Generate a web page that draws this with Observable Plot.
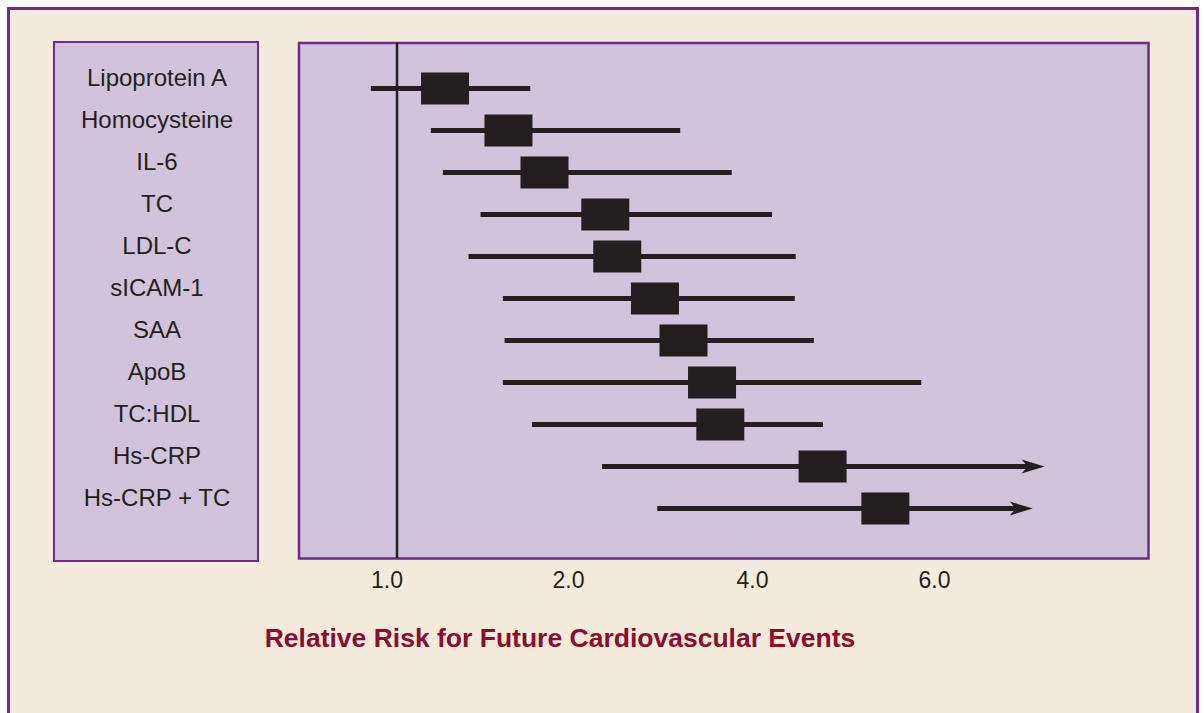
<!DOCTYPE html>
<html>
<head>
<meta charset="utf-8">
<script src="https://cdn.jsdelivr.net/npm/d3@7"></script>
<script src="https://cdn.jsdelivr.net/npm/@observablehq/plot@0.6"></script>
<style>
html, body { margin: 0; padding: 0; background: #ffffff; overflow: hidden; width: 1204px; height: 713px; }
#outer { position: absolute; left: 7px; top: 7px; width: 1192px; height: 800px; box-sizing: border-box; border: 3px solid #6b2c8c; background: #f5ebdc; }
#labelbox { position: absolute; left: 53px; top: 41px; width: 206px; height: 521px; box-sizing: border-box; border: 2.5px solid #6b2c8c; background: #d1c3dc; }
#chart { position: absolute; left: 0; top: 0; }
#title { position: absolute; left: 160px; width: 800px; top: 623px; line-height: 30px; text-align: center;
  font-family: "Liberation Sans", Arial, sans-serif; font-weight: bold; font-size: 26.5px; color: #8c0b2e; white-space: nowrap; }
</style>
</head>
<body>
<div id="outer"></div>
<div id="labelbox"></div>
<div id="chart"></div>
<div id="title">Relative Risk for Future Cardiovascular Events</div>
<script>
const markers = ["Lipoprotein A", "Homocysteine", "IL-6", "TC", "LDL-C", "sICAM-1", "SAA", "ApoB", "TC:HDL", "Hs-CRP", "Hs-CRP + TC"];
const risk  = [1.28, 1.65, 1.86, 2.40, 2.53, 2.94, 3.25, 3.56, 3.65, 4.77, 5.46];
const lower = [0.85, 1.20, 1.27, 1.49, 1.42, 1.62, 1.63, 1.62, 1.79, 2.37, 2.97];
const upper = [1.78, 3.22, 3.78, 4.22, 4.48, 4.47, 4.68, 5.86, 4.78, 7.21, 7.08];
const openEnded = [false, false, false, false, false, false, false, false, false, true, true];
const tickValues = [1, 2, 4, 6];
const tickLabels = ["1.0", "2.0", "4.0", "6.0"];

const rows = markers.map((name, i) => ({name, risk: risk[i], lo: lower[i], hi: upper[i], open: openEnded[i]}));
const ticks = tickValues.map((v, i) => ({v, label: tickLabels[i]}));

const ink = "#231f20";
const boxSymbol = {draw(ctx) { ctx.rect(-24, -16, 48, 32); }};
const arrowSymbol = {draw(ctx) {
  ctx.moveTo(0, 0); ctx.lineTo(-23, -7); ctx.lineTo(-17, 0); ctx.lineTo(-23, 7); ctx.closePath();
}};

const chart = Plot.plot({
  width: 1204,
  height: 600,
  marginLeft: 298.5,
  marginTop: 42.5,
  marginRight: 56,
  marginBottom: 42,
  style: {fontFamily: "'Liberation Sans', Arial, sans-serif", background: "transparent", color: ink},
  x: {type: "linear", domain: tickValues, range: [396.5, 568, 752, 934], axis: null},
  y: {type: "point", domain: markers, range: [83, 512], padding: 0, axis: null, label: null},
  marks: [
    Plot.frame({fill: "#d1c3dc", stroke: "#6b2c8c", strokeWidth: 2.5}),
    Plot.ruleX([1], {stroke: ink, strokeWidth: 2.5}),
    Plot.ruleY(rows.filter(d => !d.open), {y: "name", x1: "lo", x2: "hi", stroke: ink, strokeWidth: 5}),
    Plot.ruleY(rows.filter(d => d.open), {y: "name", x1: "lo", x2: "hi", stroke: ink, strokeWidth: 5, insetRight: 15}),
    Plot.dot(rows.filter(d => d.open), {y: "name", x: "hi", symbol: arrowSymbol, fill: ink, stroke: "none"}),
    Plot.dot(rows, {y: "name", x: "risk", symbol: boxSymbol, fill: ink, stroke: "none"}),
    Plot.axisY({tickSize: 0, tickPadding: 0, textAnchor: "middle", dx: -142, dy: -10.5, fontSize: 24, fill: ink, label: null}),
    Plot.text(ticks.slice(0, 1), {x: "v", text: "label", frameAnchor: "bottom", dy: 29, dx: -10, fontSize: 23, fill: ink}),
    Plot.text(ticks.slice(1), {x: "v", text: "label", frameAnchor: "bottom", dy: 29, fontSize: 23, fill: ink})
  ]
});
document.getElementById("chart").appendChild(chart);
</script>
</body>
</html>
